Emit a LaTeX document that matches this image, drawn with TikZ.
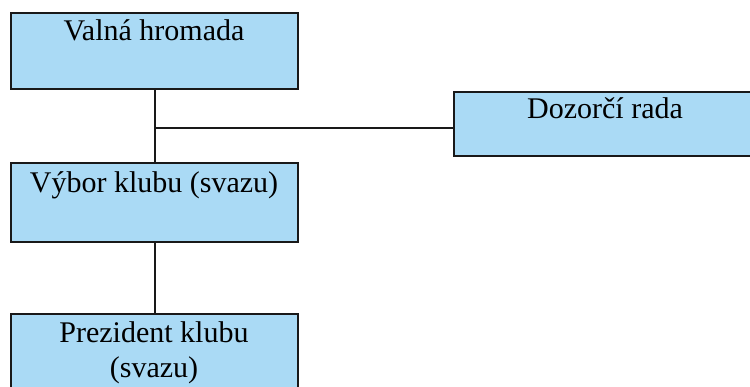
\documentclass[tikz,border=0pt]{standalone}
\usepackage{fontspec}
\setmainfont{Liberation Serif}
\definecolor{boxblue}{RGB}{170,218,245}
\definecolor{edge}{RGB}{25,25,25}
\tikzset{
  orgbox/.style={draw=edge, line width=1.5pt, fill=boxblue, rectangle, inner sep=0pt, anchor=north west},
  lbl/.style={font=\fontsize{30}{35}\selectfont, align=center, anchor=base, inner sep=0pt},
  conn/.style={draw=edge, line width=1.6pt}
}
\begin{document}
\begin{tikzpicture}[x=1pt,y=-1pt]
\useasboundingbox (0,0) rectangle (750,386);
\node[orgbox, minimum width=287pt, minimum height=76pt] (vh) at (10,12) {};
\node[orgbox, minimum width=302pt, minimum height=64pt] (dr) at (453,91) {};
\node[orgbox, minimum width=287pt, minimum height=79pt] (vk) at (10,162) {};
\node[orgbox, minimum width=287pt, minimum height=85pt] (pk) at (10,313) {};
\node[lbl] (tvh) at (154,40) {Valná hromada};
\node[lbl] (tdr) at (605,118) {Dozorčí rada};
\node[lbl] (tvk) at (154,192) {Výbor klubu (svazu)};
\node[lbl] (tpk) at (154,342) {Prezident klubu};
\node[lbl] (tpk2) at (154,377) {(svazu)};
\coordinate (a) at (155,88);
\coordinate (j) at (155,128);
\coordinate (b) at (155,162);
\coordinate (c) at (155,241);
\coordinate (d) at (155,313);
\draw[conn] (a) -- (b);
\draw[conn] (j) -- (dr.west |- j);
\draw[conn] (c) -- (d);
\end{tikzpicture}
\end{document}
